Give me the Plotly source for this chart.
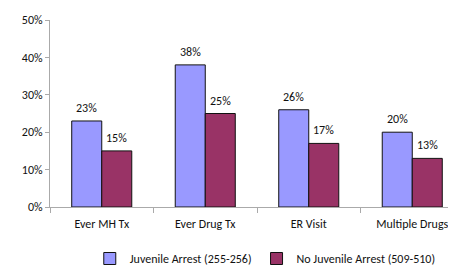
import plotly.graph_objects as go

categories = ["Ever MH Tx", "Ever Drug Tx", "ER Visit", "Multiple Drugs"]
juvenile = [23, 38, 26, 20]
no_juvenile = [15, 25, 17, 13]
series_names = ["Juvenile Arrest (255-256)", "No Juvenile Arrest (509-510)"]
tick_vals = [0, 10, 20, 30, 40, 50]
tick_text = ["0%", "10%", "20%", "30%", "40%", "50%"]

FONT = "Carlito, Lato, sans-serif"
colors = ["#9999FF", "#993366"]
TXT = "#111111"

fig = go.Figure()
for name, vals, col in zip(series_names, [juvenile, no_juvenile], colors):
    fig.add_trace(go.Bar(
        x=categories, y=vals, name=name,
        marker=dict(color=col, line=dict(color="#111111", width=1)),
    ))

annotations = []
for i, cat in enumerate(categories):
    for vals, shift in [(juvenile, -15), (no_juvenile, 15)]:
        annotations.append(dict(
            x=cat, y=vals[i], text=f"{vals[i]}%", showarrow=False,
            xshift=shift, yshift=13, font=dict(family=FONT, size=12, color=TXT),
        ))

fig.update_layout(
    width=456, height=265,
    margin=dict(l=42, r=0, t=12, b=60),
    paper_bgcolor="white", plot_bgcolor="white",
    barmode="group", bargap=0.42, bargroupgap=0,
    font=dict(family=FONT, size=12, color=TXT),
    showlegend=True,
    legend=dict(orientation="h", x=0.52, xanchor="center", y=-0.2, yanchor="top",
                font=dict(family=FONT, size=12, color=TXT),
                itemwidth=30, tracegroupgap=0),
    annotations=annotations,
    xaxis=dict(range=[-0.5, 3.5], showline=True, linecolor="#AAAAAA", linewidth=1,
               ticks="outside", tickson="boundaries", ticklen=5, tickcolor="#AAAAAA",
               ticklabelstandoff=6,
               showgrid=False, tickfont=dict(family=FONT, size=12, color=TXT)),
    yaxis=dict(range=[0, 50], tickvals=tick_vals, ticktext=tick_text,
               showline=True, linecolor="#AAAAAA", linewidth=1,
               ticks="outside", ticklen=4, tickcolor="#AAAAAA",
               showgrid=False, zeroline=False,
               tickfont=dict(family=FONT, size=12, color=TXT)),
)

fig.write_html("out.html")
